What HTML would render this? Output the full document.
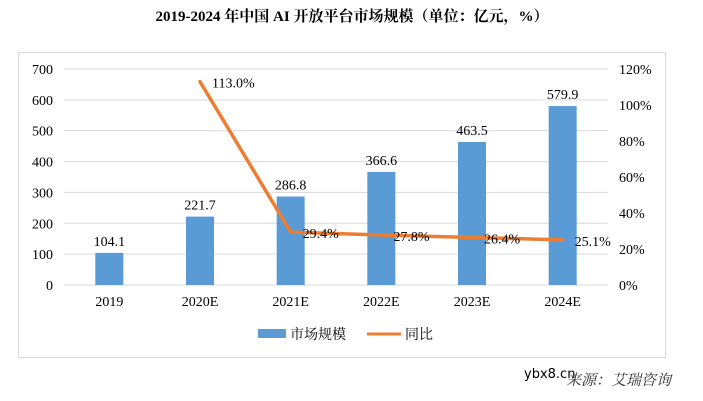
<!DOCTYPE html>
<html><head><meta charset="utf-8"><style>
body{margin:0;width:703px;height:401px;background:#fff;overflow:hidden;font-family:"Liberation Serif","Noto Serif CJK SC",serif;}
svg{position:absolute;left:0;top:0}
</style></head><body>
<svg width="703" height="401">
<text x="352" y="21" text-anchor="middle" font-size="15" font-weight="bold" fill="#000">2019-2024 年中国 AI 开放平台市场规模（单位：亿元，%）</text>
<rect x="18.5" y="52.5" width="647" height="305" fill="none" stroke="#d9d9d9"/>
<g id="grid"></g><g id="bars"></g><g id="line"></g><g id="labels"></g>
<g>
<rect x="258" y="329" width="28" height="9" fill="#5b9bd5"/>
<text x="290" y="339" font-size="14">市场规模</text>
<line x1="367" y1="334" x2="401" y2="334" stroke="#ed7d31" stroke-width="3"/>
<text x="405" y="339" font-size="14">同比</text>
</g>
<text x="524" y="378" font-family="'DejaVu Sans',sans-serif" font-size="13" fill="#000">ybx8.cn</text>
<text x="566" y="385" font-size="15" font-style="italic" fill="#333">来源：艾瑞咨询</text>
</svg>
<script>
const categories=["2019","2020E","2021E","2022E","2023E","2024E"];
const marketValues=[104.1,221.7,286.8,366.6,463.5,579.9];
const growthValues=[null,113.0,29.4,27.8,26.4,25.1];
const leftTicks=[0,100,200,300,400,500,600,700];
const rightTicks=[0,20,40,60,80,100,120];
const NS="http://www.w3.org/2000/svg";
const x0=64,x1=608,yTop=69,yBot=285;
const step=(x1-x0)/categories.length;
const xc=i=>x0+step*(i+0.5);
const yL=v=>yBot-v/700*(yBot-yTop);
const yR=v=>yBot-v/120*(yBot-yTop);
function mk(tag,attrs,parent,text){const e=document.createElementNS(NS,tag);for(const k in attrs)e.setAttribute(k,attrs[k]);if(text!=null)e.textContent=text;document.getElementById(parent).appendChild(e);return e;}
leftTicks.forEach(t=>{
 const l=mk('line',{x1:x0,x2:x1,y1:yL(t),y2:yL(t),stroke:'#d9d9d9','stroke-width':1},'grid');
 
 
 const tx=mk('text',{x:53,y:yL(t)+5,'text-anchor':'end','font-size':14},'grid',t);
 
 
});
rightTicks.forEach(t=>{
 const tx=mk('text',{x:619,y:yR(t)+5,'font-size':14},'grid',t+'%');
 
 
});
categories.forEach((c,i)=>{
 const tx=mk('text',{x:xc(i),y:306,'text-anchor':'middle','font-size':14},'grid',c);
 
 
 const v=marketValues[i];
 const b=mk('rect',{x:xc(i)-14,y:yL(v),width:28,height:yBot-yL(v),fill:'#5b9bd5'},'bars');
 
 
 const bl=mk('text',{x:xc(i),y:yL(v)-7,'text-anchor':'middle','font-size':14},'labels',v.toFixed(1));
 
 
});
let pts=[];
growthValues.forEach((g,i)=>{if(g!=null)pts.push([xc(i),yR(g),g]);});
const pl=mk('polyline',{points:pts.map(p=>p[0]+','+p[1]).join(' '),fill:'none',stroke:'#ed7d31','stroke-width':3.5,'stroke-linejoin':'round','stroke-linecap':'round'},'line');


pts.forEach(p=>{
 const t=mk('text',{x:p[0]+12,y:p[1]+6,'font-size':14},'labels',p[2].toFixed(1)+'%');
 
 
});
</script>
</body></html>
